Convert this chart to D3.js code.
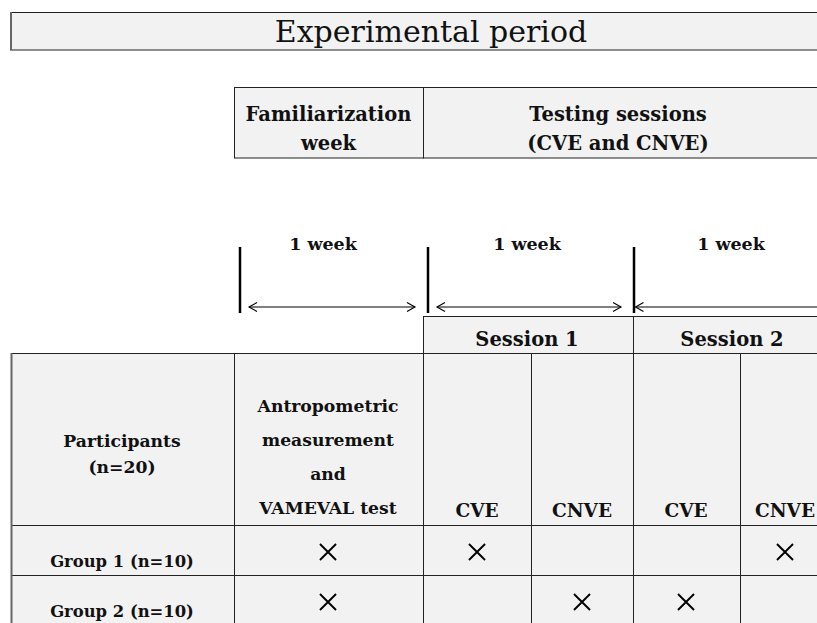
<!DOCTYPE html>
<html>
<head>
<meta charset="utf-8">
<script src="https://cdn.jsdelivr.net/npm/d3@7"></script>
<style>
  body { margin: 0; background: #fff; }
  svg { display: block; }
</style>
</head>
<body>
<div id="chart"></div>
<script>
// texts of the design
var title = "Experimental period";
var phases = [["Familiarization", "week"], ["Testing sessions", "(CVE and CNVE)"]];
var weekLabels = ["1 week", "1 week", "1 week"];
var sessions = ["Session 1", "Session 2"];
var headFirst = ["Participants", "(n=20)"];
var headSecond = ["Antropometric", "measurement", "and", "VAMEVAL test"];
var conditions = ["CVE", "CNVE", "CVE", "CNVE"];
var groups = ["Group 1 (n=10)", "Group 2 (n=10)"];
// which column gets a cross (baseline, S1 CVE, S1 CNVE, S2 CVE, S2 CNVE)
var schedule = [
    [1, 1, 0, 0, 1],
    [1, 0, 1, 1, 0]
];

var width = 817, height = 623;
var fill = "#f2f2f2", line = "#222";
var serif = "'DejaVu Serif', serif";

// column edges of the table
var colX = [11, 234, 423, 531, 633, 740, 860];
var colMid = [122, 328, 477, 582, 686, 785];
var weekX = [240, 428, 634, 840];
var weekMid = [323, 527, 731];
var rowY = [353, 525, 575, 625];

var svg = d3.select("#chart").append("svg")
    .attr("width", width)
    .attr("height", height);

var defs = svg.append("defs");
["start", "end"].forEach(function(k){
    defs.append("marker")
        .attr("id", "arr-" + k)
        .attr("viewBox", "-10 -6 20 12")
        .attr("markerWidth", 20)
        .attr("markerHeight", 12)
        .attr("markerUnits", "userSpaceOnUse")
        .attr("orient", "auto")
        .append("path")
        .attr("d", k == "end" ? "M-8,-4.5 L0,0 L-8,4.5" : "M8,-4.5 L0,0 L8,4.5")
        .attr("fill", "none")
        .attr("stroke", "#000")
        .attr("stroke-width", 1.1);
});

function cell(x0, y0, x1, y1){
    svg.append("rect")
        .attr("x", x0).attr("y", y0)
        .attr("width", x1 - x0).attr("height", y1 - y0)
        .attr("fill", fill)
        .attr("stroke", line)
        .attr("stroke-width", 1);
}

function lines(arr, cx, y0, dy, size, bold){
    svg.append("g").selectAll("text")
        .data(arr)
        .enter()
        .append("text")
        .attr("x", cx)
        .attr("y", function(d, i){ return y0 + i * dy; })
        .attr("text-anchor", "middle")
        .attr("font-family", serif)
        .attr("font-size", size)
        .attr("font-weight", bold ? "bold" : "normal")
        .attr("fill", "#111")
        .text(function(d){ return d; });
}

// title bar
cell(10.5, 12.5, 830, 50);
svg.append("line")
    .attr("x1", 11).attr("x2", 11).attr("y1", 12).attr("y2", 50)
    .attr("stroke", "#666").attr("stroke-width", 2);
lines([title], 431, 42, 0, 30, false);

// phase boxes
cell(234.5, 87.5, 423.5, 158);
cell(423.5, 87.5, 830, 158);
lines(phases[0], (234 + 423) / 2, 121, 28.5, 19.5, true);
lines(phases[1], 618, 121, 28.5, 19.5, true);

// timeline
svg.append("g").selectAll("line")
    .data(weekX.slice(0, 3))
    .enter()
    .append("line")
    .attr("x1", function(d){ return d; })
    .attr("x2", function(d){ return d; })
    .attr("y1", 247).attr("y2", 313)
    .attr("stroke", "#000")
    .attr("stroke-width", 2.5);

svg.append("g").selectAll("line")
    .data(weekLabels)
    .enter()
    .append("line")
    .attr("x1", function(d, i){ return weekX[i] + (i < 2 ? 9 : 1.5); })
    .attr("x2", function(d, i){ return i < 2 ? weekX[i + 1] - 13 : weekX[i + 1]; })
    .attr("y1", 307).attr("y2", 307)
    .attr("stroke", "#000")
    .attr("stroke-width", 1.1)
    .attr("marker-start", "url(#arr-start)")
    .attr("marker-end", "url(#arr-end)");

weekLabels.forEach(function(t, i){
    lines([t], weekMid[i], 250, 0, 17.5, true);
});

// session boxes
cell(423.5, 316.5, 633.5, 353.5);
cell(633.5, 316.5, 830, 353.5);
lines([sessions[0]], 527, 346, 0, 19.5, true);
lines([sessions[1]], 732, 346, 0, 19.5, true);

// table
for(var r = 0; r < 3; r++){
    for(var c = 0; c < 6; c++){
        cell(colX[c] + 0.5, rowY[r] + 0.5, colX[c + 1] + 0.5, rowY[r + 1] + 0.5);
    }
}
svg.append("line")
    .attr("x1", 11.5).attr("x2", 11.5).attr("y1", rowY[0]).attr("y2", height)
    .attr("stroke", "#666").attr("stroke-width", 2);

lines(headFirst, colMid[0], 447, 26, 17.2, true);
lines(headSecond, colMid[1], 412, 34, 17.2, true);
conditions.forEach(function(t, i){
    lines([t], colMid[i + 2], 517, 0, 18.5, true);
});

var cross = d3.symbol().type(d3.symbolX).size(170);

groups.forEach(function(g, r){
    lines([g], colMid[0], rowY[r + 1] + 42, 0, 16.4, true);
    var marks = schedule[r]
        .map(function(v, i){ return {v: v, col: i + 1}; })
        .filter(function(d){ return d.v == 1; });
    svg.append("g").selectAll("path")
        .data(marks)
        .enter()
        .append("path")
        .attr("d", cross)
        .attr("transform", function(d){
            return "translate(" + colMid[d.col] + "," + (rowY[r + 1] + 27) + ")";
        })
        .attr("fill", "none")
        .attr("stroke", "#000")
        .attr("stroke-width", 1.9);
});
</script>
</body>
</html>
